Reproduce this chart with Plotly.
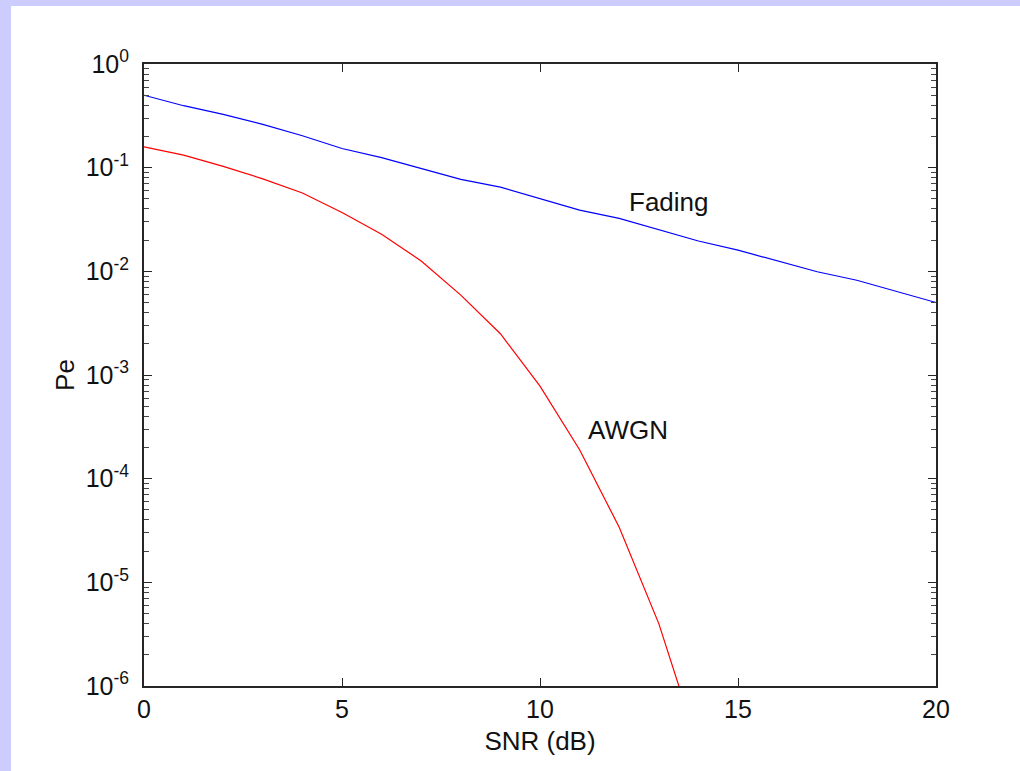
import plotly.graph_objects as go

# SNR grid (dB)
snr_db = list(range(0, 21))

# Bit error probability over a Rayleigh fading channel
pe_fading = [0.50, 0.396, 0.327, 0.262, 0.203, 0.153, 0.125, 0.0985, 0.077, 0.065,
             0.050, 0.039, 0.0324, 0.025, 0.0196, 0.016, 0.0126, 0.0099, 0.0082,
             0.0064, 0.0050]

# Bit error probability over an AWGN channel (falls off the axis after 13.5 dB)
snr_awgn = list(range(0, 15))
pe_awgn = [0.159, 0.132, 0.103, 0.078, 0.057, 0.037, 0.0228, 0.0126, 0.0059,
           0.0025, 7.8e-4, 1.9e-4, 3.4e-5, 4.0e-6, 2.6e-7]

x_ticks = [0, 5, 10, 15, 20]
y_exponents = [0, -1, -2, -3, -4, -5, -6]
y_ticks = [10.0 ** e for e in y_exponents]
y_ticktext = ["10<sup>%s</sup>" % ("-%d" % -e if e < 0 else "%d" % e) for e in y_exponents]
# minor ticks at 2..9 within each decade
y_minor = [k * 10.0 ** e for e in y_exponents[1:] for k in range(2, 10)]

FONT = "Liberation Sans"
TXT = "#111111"
AX_COLOR = "#262626"
FS_TICK = 25
FS = 26

fig = go.Figure()
fig.add_trace(go.Scatter(x=snr_db, y=pe_fading, mode="lines",
                         line=dict(color="#0000ff", width=1.2), showlegend=False))
fig.add_trace(go.Scatter(x=snr_awgn, y=pe_awgn, mode="lines",
                         line=dict(color="#ff0000", width=1.2), showlegend=False))

fig.add_annotation(x=13.26, y=-1.33, text="Fading", showarrow=False,
                   font=dict(family=FONT, size=FS, color=TXT))
fig.add_annotation(x=12.23, y=-3.535, text="AWGN", showarrow=False,
                   font=dict(family=FONT, size=FS, color=TXT))

fig.update_xaxes(
    range=[0, 20], tickvals=x_ticks, ticks="inside", ticklen=8, tickwidth=1,
    tickcolor=AX_COLOR, showline=True, linecolor=AX_COLOR, linewidth=2,
    mirror="ticks", showgrid=False, zeroline=False,
    tickfont=dict(family=FONT, size=FS_TICK, color=TXT),
    title=dict(text="SNR (dB)", font=dict(family=FONT, size=FS, color=TXT),
               standoff=10),
)
fig.update_yaxes(
    type="log", range=[-6, 0], tickvals=y_ticks, ticktext=y_ticktext,
    ticks="inside", ticklen=8, tickwidth=1, tickcolor=AX_COLOR,
    minor=dict(ticks="inside", ticklen=5, tickwidth=1, tickcolor="#444444",
               tickvals=y_minor, showgrid=False),
    showline=True, linecolor=AX_COLOR, linewidth=2, mirror="ticks",
    showgrid=False, zeroline=False, ticklabelstandoff=8,
    tickfont=dict(family=FONT, size=FS_TICK, color=TXT),
    title=dict(text="Pe", font=dict(family=FONT, size=FS, color=TXT),
               standoff=4),
)

# Lavender frame along the top and left edges of the page
W, H = 1020, 771
L, R, T, B = 144, 84, 64, 85
pw, ph = W - L - R, H - T - B
band = "#ccccff"
fig.add_shape(type="rect", xref="paper", yref="paper", layer="below",
              x0=-L / pw, x1=(11 - L) / pw, y0=-B / ph, y1=(H - B) / ph,
              fillcolor=band, line=dict(width=0))
fig.add_shape(type="rect", xref="paper", yref="paper", layer="below",
              x0=-L / pw, x1=(W - L) / pw, y0=(H - B - 6) / ph, y1=(H - B) / ph,
              fillcolor=band, line=dict(width=0))

fig.update_layout(
    width=W, height=H, margin=dict(l=L, r=R, t=T, b=B),
    paper_bgcolor="white", plot_bgcolor="white",
    font=dict(family=FONT, color=TXT, size=FS),
)

fig.write_html("out.html")
